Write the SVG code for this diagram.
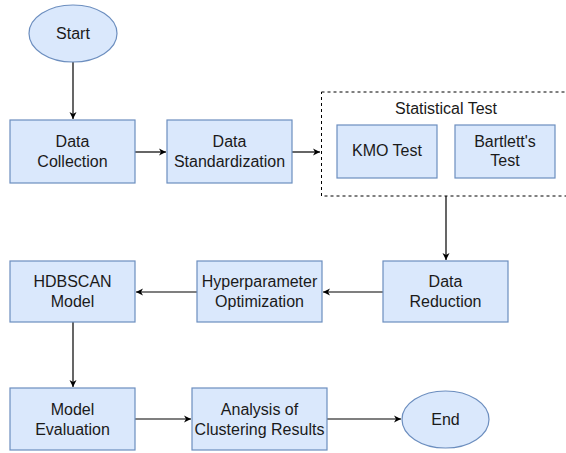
<svg xmlns="http://www.w3.org/2000/svg" width="566" height="453" viewBox="0 0 566 453">
<style>
.n{fill:#dae8fc;stroke:#6c8ebf;stroke-width:1.2}
.t{font-family:"Liberation Sans",Arial,sans-serif;font-size:16px;fill:#1a1a1a;text-anchor:middle}
.e{fill:none;stroke:#000;stroke-width:1.2}
</style>
<defs>
<marker id="a" markerWidth="8" markerHeight="8" refX="7" refY="4" orient="auto" markerUnits="userSpaceOnUse">
<path d="M0,0.5 L7,4 L0,7.5 L2,4 Z" fill="#000"/>
</marker>
</defs>
<rect width="566" height="453" fill="#fff"/>
<g id="connectors">
<path class="e" d="M73,62 V119" marker-end="url(#a)"/>
<path class="e" d="M135,152 H166" marker-end="url(#a)"/>
<path class="e" d="M292,152 H320" marker-end="url(#a)"/>
<path class="e" d="M446,196 V260" marker-end="url(#a)"/>
<path class="e" d="M383,292 H323" marker-end="url(#a)"/>
<path class="e" d="M197,292 H136" marker-end="url(#a)"/>
<path class="e" d="M73,322 V387" marker-end="url(#a)"/>
<path class="e" d="M135,419 H191" marker-end="url(#a)"/>
<path class="e" d="M327,419 H401" marker-end="url(#a)"/>
</g>
<g id="start"><ellipse class="n" cx="73" cy="33.5" rx="44" ry="28.5"/><text class="t" x="73" y="38.5">Start</text></g>
<g id="data-collection"><rect class="n" x="10" y="120" width="125" height="63"/><text class="t" x="72.5" y="147">Data</text><text class="t" x="72.5" y="167">Collection</text></g>
<g id="data-standardization"><rect class="n" x="167" y="120" width="125" height="63"/><text class="t" x="229.5" y="147">Data</text><text class="t" x="229.5" y="167">Standardization</text></g>
<g id="statistical-test"><rect x="321.5" y="92" width="260" height="104" fill="none" stroke="#000" stroke-width="1" stroke-dasharray="3,3"/><text class="t" x="446" y="114">Statistical Test</text></g>
<g id="kmo"><rect class="n" x="337" y="125" width="100" height="53"/><text class="t" x="387" y="156">KMO Test</text></g>
<g id="bartlett"><rect class="n" x="455" y="125" width="100" height="53"/><text class="t" x="505" y="147">Bartlett's</text><text class="t" x="505" y="166">Test</text></g>
<g id="data-reduction"><rect class="n" x="383" y="261" width="125" height="61"/><text class="t" x="445.5" y="287">Data</text><text class="t" x="445.5" y="307">Reduction</text></g>
<g id="hyperparameter"><rect class="n" x="197" y="261" width="125" height="61"/><text class="t" x="259.5" y="287">Hyperparameter</text><text class="t" x="259.5" y="307">Optimization</text></g>
<g id="hdbscan"><rect class="n" x="10" y="261" width="125" height="61"/><text class="t" x="72.5" y="287">HDBSCAN</text><text class="t" x="72.5" y="307">Model</text></g>
<g id="model-evaluation"><rect class="n" x="10" y="388" width="125" height="62"/><text class="t" x="72.5" y="415">Model</text><text class="t" x="72.5" y="435">Evaluation</text></g>
<g id="analysis"><rect class="n" x="192" y="388" width="135" height="62"/><text class="t" x="259.5" y="415">Analysis of</text><text class="t" x="259.5" y="435">Clustering Results</text></g>
<g id="end"><ellipse class="n" cx="445.5" cy="419.5" rx="43.5" ry="28.5"/><text class="t" x="445.5" y="425">End</text></g>
</svg>
